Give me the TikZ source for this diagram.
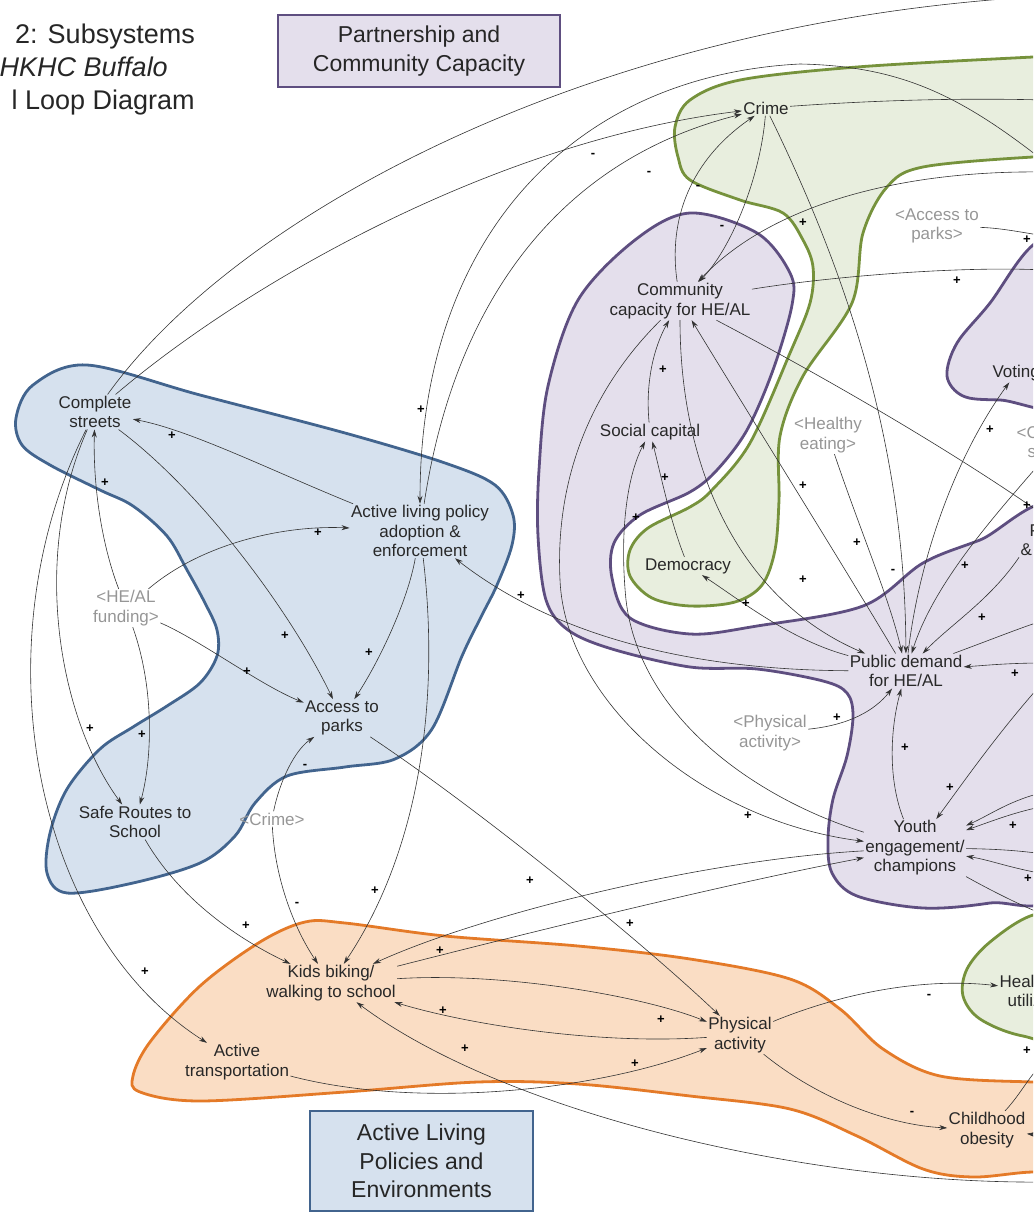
\documentclass[tikz,border=0pt]{standalone}
\usepackage{fontspec}
\setmainfont{Liberation Sans}
\usetikzlibrary{arrows.meta}
\definecolor{bluefill}{RGB}{214,225,238}
\definecolor{blueline}{RGB}{66,100,142}
\definecolor{purpfill}{RGB}{228,223,236}
\definecolor{purpline}{RGB}{94,78,128}
\definecolor{greenfill}{RGB}{232,238,222}
\definecolor{greenline}{RGB}{118,146,60}
\definecolor{orfill}{RGB}{250,221,196}
\definecolor{orline}{RGB}{228,122,40}
\definecolor{txt}{RGB}{40,40,40}
\definecolor{gtxt}{RGB}{150,150,150}
\begin{document}
\begin{tikzpicture}[x=1pt,y=-1pt,
  var/.style={align=center,font=\fontsize{17}{19.5}\selectfont,inner sep=1.5pt,outer sep=0pt,text=txt},
  gvar/.style={var,text=gtxt},
  pol/.style={font=\fontsize{13}{13}\selectfont\bfseries,inner sep=0pt,text=black},
  arr/.style={draw=black!80,line width=0.6pt,-{Stealth[length=8pt,width=5pt]}},
  blob/.style={line width=2.8pt,line join=round},
  titlet/.style={font=\fontsize{27}{33}\selectfont,text=black!85,inner sep=0pt},
  boxt/.style={draw,line width=2pt,align=center,font=\fontsize{23}{28.5}\selectfont,text=black!85,inner sep=0pt}
]
\useasboundingbox (0,0) rectangle (1033,1212);
\clip (0,0) rectangle (1033,1212);

% ---------- subsystem blobs ----------
\path[blob,fill=purpfill,draw=purpline] plot[smooth cycle,tension=0.55] coordinates {(690,213) (757,233) (790,273) (792,305) (773,370) (747,430) (717,470) (690,492) (640,515) (614,543) (612,578) (630,618) (690,634) (757,626) (863,606) (923,563) (980,540) (1060,510) (1090,700) (1060,888) (990,903) (923,908) (857,896) (832,873) (828,839) (833,799) (847,756) (853,716) (847,693) (823,681) (757,669) (690,667) (612,649) (568,630) (546,600) (538,536) (539,470) (548,386) (578,300) (635,240)};
\path[blob,fill=purpfill,draw=purpline] plot[smooth cycle,tension=0.55] coordinates {(1090,220) (1033,245) (990,303) (957,343) (947,376) (963,396) (1000,400) (1090,400)};
\path[blob,fill=greenfill,draw=greenline] plot[smooth cycle,tension=0.55] coordinates {(690,100) (740,80) (857,67) (1033,57) (1090,55) (1090,157) (1033,157) (923,167) (887,187) (863,233) (852,303) (803,376) (780,436) (779,500) (775,550) (762,585) (735,602) (690,606) (652,598) (630,576) (630,550) (648,528) (690,507) (712,490) (750,443) (790,353) (810,303) (813,267) (803,240) (783,213) (740,200) (690,180) (678,157) (675,127)};
\path[blob,fill=greenfill,draw=greenline] plot[smooth cycle,tension=0.55] coordinates {(1090,910) (1033,915) (990,942) (967,969) (963,996) (980,1019) (1023,1036) (1090,1040)};
\path[blob,fill=bluefill,draw=blueline] plot[smooth cycle,tension=0.55] coordinates {(87,365) (200,395) (345,433) (445,463) (495,485) (513,515) (512,545) (497,585) (482,615) (462,656) (432,729) (395,759) (345,767) (287,776) (255,803) (235,836) (200,863) (133,883) (67,893) (47,873) (50,833) (67,789) (100,749) (133,727) (167,706) (200,683) (217,656) (217,630) (205,603) (187,570) (167,536) (133,506) (100,490) (50,465) (22,445) (16,418) (33,385)};
\path[blob,fill=orfill,draw=orline] plot[smooth cycle,tension=0.55] coordinates {(345,923) (445,936) (578,946) (690,959) (790,979) (840,1009) (883,1049) (940,1076) (1033,1082) (1090,1082) (1090,1175) (1033,1172) (973,1177) (923,1169) (857,1136) (790,1109) (690,1096) (578,1084) (478,1082) (345,1092) (200,1101) (140,1092) (133,1076) (150,1042) (200,986) (260,942) (305,922)};

% ---------- title and legend boxes ----------
\node[titlet,anchor=base east] (t1) at (195,44) {2: Subsystems};
\node[titlet,anchor=base east] (t2) at (168,77) {\itshape HKHC Buffalo};
\node[titlet,anchor=base east] (t3) at (195,110) {l Loop Diagram};
\node[boxt,fill=purpfill,draw=purpline,minimum width=282pt,minimum height=72pt] (pbox) at (419,51) {Partnership and\\Community Capacity};
\node[boxt,fill=bluefill,draw=blueline,minimum width=223pt,minimum height=100pt] (abox) at (421.5,1161) {Active Living\\Policies and\\Environments};

% ---------- variables ----------
\node[var] (crime) at (766,108) {Crime};
\node[var] (cc) at (680,301) {Community\\capacity for HE/AL};
\node[var] (sc) at (650,432) {Social capital};
\node[var] (dem) at (688,566) {Democracy};
\node[gvar] (he) at (828,435) {<Healthy\\eating>};
\node[gvar] (ap2) at (937,226) {<Access to\\parks>};
\node[var,anchor=west] (vot) at (991,373) {Voting};
\node[gvar] (cs2) at (1058,442) {<Complete\\streets>};
\node[var,anchor=north west,align=left] (amp) at (1019,523) {\hspace*{9pt}P\\\&};
\node[var] (pd) at (906,671) {Public demand\\for HE/AL};
\node[gvar] (pa2) at (770,733) {<Physical\\activity>};
\node[var] (ye) at (915,848) {Youth\\engagement/\\champions};
\node[var] (cst) at (95,412) {Complete\\streets};
\node[var] (alp) at (420,531) {Active living policy\\adoption \&\\enforcement};
\node[gvar] (fund) at (126,608) {<HE/AL\\funding>};
\node[var] (ap) at (342,718) {Access to\\parks};
\node[var] (srs) at (135,822) {Safe Routes to\\School};
\node[gvar] (cr2) at (272,819) {<Crime>};
\node[var] (kids) at (331,983) {Kids biking/\\walking to school};
\node[var] (atr) at (237,1062) {Active\\transportation};
\node[var] (pa) at (740,1035) {Physical\\activity};
\node[var] (co) at (987,1130) {Childhood\\obesity};
\node[var] (hc) at (1043,991) {Health care\\utilization};

% off-picture ends
\coordinate (o1) at (1050,-4);
\coordinate (o3) at (1045,162);
\coordinate (o7) at (1045,172);
\coordinate (o8) at (1045,100);
\coordinate (o11) at (1045,270);
\coordinate (o12) at (1045,236);
\coordinate (o13) at (1045,516);
\coordinate (o19) at (1045,620);
\coordinate (o20) at (1045,663);
\coordinate (o25) at (1045,680);
\coordinate (o26a) at (1045,792);
\coordinate (o26b) at (1045,806);
\coordinate (o27) at (1045,854);
\coordinate (o28) at (1045,874);
\coordinate (o29) at (1045,915);
\coordinate (o50) at (1050,1182);
\coordinate (o54) at (1045,1062);
\coordinate (o55) at (1050,1136);

% ---------- connectors ----------
\draw[arr] (cst) .. controls (240,210) and (600,20) .. (o1);
\draw[arr] (cst) .. controls (250,280) and (500,140) .. (crime);
\draw[arr] (o3) .. controls (960,95) and (900,66) .. (800,64) .. controls (580,75) and (420,230) .. (alp);
\draw[arr] (alp) .. controls (455,300) and (560,160) .. (crime);
\draw[arr] (cc) .. controls (668,220) and (690,160) .. (crime);
\draw[arr] (crime) .. controls (760,180) and (730,250) .. (cc);
\draw[arr] (o7) .. controls (900,170) and (770,205) .. (cc);
\draw[arr] (crime) .. controls (880,100) and (960,98) .. (o8);
\draw[arr] (crime) .. controls (850,280) and (905,450) .. (pd);
\draw[arr] (cc) .. controls (820,278) and (950,266) .. (o11);
\draw[arr] (ap2) .. controls (1000,228) and (1020,232) .. (o12);
\draw[arr] (cc) .. controls (830,380) and (950,450) .. (o13);
\draw[arr] (pd) .. controls (840,560) and (740,400) .. (cc);
\draw[arr] (cc) .. controls (680,470) and (740,600) .. (pd);
\draw[arr] (he) .. controls (860,530) and (890,600) .. (pd);
\draw[arr] (pd) .. controls (920,550) and (960,450) .. (vot);
\draw[arr] (cs2) .. controls (1000,510) and (935,580) .. (pd);
\draw[arr] (amp) .. controls (990,600) and (950,625) .. (pd);
\draw[arr] (pd) .. controls (990,640) and (1020,628) .. (o19);
\draw[arr] (o20) .. controls (1010,663) and (990,665) .. (pd);
\draw[arr] (o25) .. controls (1000,730) and (965,780) .. (ye);
\draw[arr] (o26a) .. controls (1010,800) and (990,815) .. (ye);
\draw[arr] (o26b) .. controls (1015,812) and (995,820) .. (ye);
\draw[arr] (ye) .. controls (1000,849) and (1020,851) .. (o27);
\draw[arr] (o28) .. controls (1010,868) and (990,860) .. (ye);
\draw[arr] (ye) .. controls (990,890) and (1020,905) .. (o29);
\draw[arr] (pd) .. controls (700,670) and (560,640) .. (alp);
\draw[arr] (pd) .. controls (790,640) and (740,600) .. (dem);
\draw[arr] (ye) .. controls (888,780) and (890,730) .. (pd);
\draw[arr] (pa2) .. controls (850,725) and (875,710) .. (pd);
\draw[arr] (cc) .. controls (590,390) and (555,480) .. (560,580) .. controls (565,700) and (700,820) .. (ye);
\draw[arr] (ye) .. controls (760,800) and (640,720) .. (626,600) .. controls (620,540) and (625,480) .. (sc);
\draw[arr] (sc) .. controls (645,380) and (655,345) .. (cc);
\draw[arr] (dem) .. controls (670,520) and (662,480) .. (sc);
\draw[arr] (alp) .. controls (270,470) and (190,430) .. (cst);
\draw[arr] (fund) .. controls (200,545) and (280,525) .. (alp);
\draw[arr] (fund) .. controls (100,540) and (93,480) .. (cst);
\draw[arr] (fund) .. controls (200,640) and (260,685) .. (ap);
\draw[arr] (fund) .. controls (155,690) and (152,760) .. (srs);
\draw[arr] (cst) .. controls (30,560) and (60,720) .. (srs);
\draw[arr] (cst) .. controls (200,490) and (290,610) .. (ap);
\draw[arr] (alp) .. controls (408,600) and (380,660) .. (ap);
\draw[arr] (cr2) .. controls (280,780) and (295,750) .. (ap);
\draw[arr] (cr2) .. controls (275,880) and (295,930) .. (kids);
\draw[arr] (srs) .. controls (180,900) and (240,940) .. (kids);
\draw[arr] (cst) .. controls (-20,640) and (30,930) .. (atr);
\draw[arr] (alp) .. controls (440,700) and (420,850) .. (kids);
\draw[arr] (ap) .. controls (480,810) and (640,940) .. (pa);
\draw[arr] (kids) .. controls (500,972) and (640,995) .. (pa);
\draw[arr] (pa) .. controls (600,1045) and (470,1025) .. (kids);
\draw[arr] (o50) .. controls (800,1185) and (500,1110) .. (kids);
\draw[arr] (atr) .. controls (420,1110) and (600,1090) .. (pa);
\draw[arr] (pa) .. controls (850,990) and (930,978) .. (hc);
\draw[arr] (pa) .. controls (820,1100) and (890,1125) .. (co);
\draw[arr] (co) .. controls (1020,1095) and (1030,1075) .. (o54);
\draw[arr] (o55) -- (co);
\draw[arr] (ye) .. controls (700,860) and (480,915) .. (kids);
\draw[arr] (kids) .. controls (520,935) and (720,885) .. (ye);

% ---------- polarities ----------
\foreach \px/\py [count=\i] in {593/155,649/173,698/187,722/227,893/571,305/766,297/904,929/996,912/1113}
  \node[pol] (minus\i) at (\px,\py) {-};
\foreach \px/\py [count=\i] in {421/410,803/223,957/281,1027/240,1027/506,803/486,803/580,857/543,990/430,965/566,982/618,1015/674,837/718,905/748,950/788,1013/826,1028/879,748/816,636/518,665/478,663/370,521/596,746/604,172/436,318/533,105/483,247/672,142/735,90/729,285/636,369/653,246/926,145/972,530/881,375/891,440/951,630/924,661/1020,443/1011,465/1049,635/1064,1027/1051}
  \node[pol] (plus\i) at (\px,\py) {+};
\end{tikzpicture}
\end{document}
